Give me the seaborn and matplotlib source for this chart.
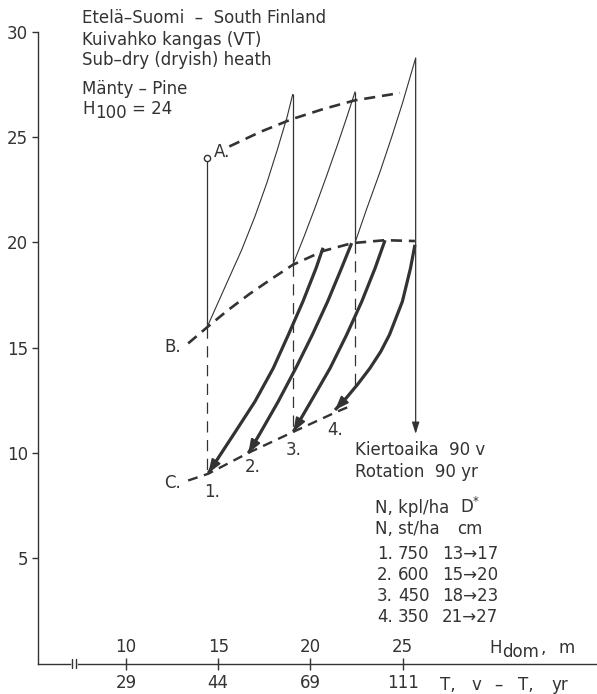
import matplotlib
matplotlib.use("Agg")
import matplotlib.pyplot as plt
import seaborn as sns
import pandas as pd

# ---------------- data ----------------
h_ticks = [10, 15, 20, 25]
t_labels = ["29", "44", "69", "111"]
y_ticks = [5, 10, 15, 20, 25, 30]

# dashed development curves A (top), B (before thinning), C (after thinning)
curve_A_h = [15.6, 17.3, 19.0, 20.7, 22.4, 24.85]
curve_A_v = [24.55, 25.25, 25.85, 26.33, 26.74, 27.09]
curve_B_h = [13.37, 14.39, 15.5, 16.7, 17.9, 19.04, 19.97, 20.70, 22.25, 24.04, 25.66]
curve_B_v = [15.2, 15.96, 16.76, 17.55, 18.27, 18.93, 19.30, 19.59, 19.96, 20.10, 20.06]
curve_C_h = [13.37, 14.46, 16.63, 19.07, 21.42, 22.1]
curve_C_v = [8.69, 9.01, 10.0, 11.0, 11.95, 12.2]

# thin growth curves (saw-tooth)
thin1_h = [14.39, 15.46, 16.27, 16.99, 17.63, 18.20, 18.74, 19.04]
thin1_v = [15.96, 18.06, 19.64, 21.23, 22.81, 24.39, 25.98, 27.04]
thin2_h = [19.04, 19.65, 20.24, 20.88, 21.51, 21.96, 22.42]
thin2_v = [18.93, 20.27, 21.63, 23.17, 24.75, 25.92, 27.16]
thin3_h = [22.42, 23.05, 23.77, 24.40, 25.0, 25.70]
thin3_v = [20.0, 21.6, 23.35, 25.0, 26.65, 28.75]

# vertical solid lines: (H, top, bottom)
vert_h = [14.39, 19.04, 22.42, 25.70]
vert_top = [24.0, 27.04, 27.16, 28.75]
vert_bot = [15.96, 18.93, 20.0, 10.9]

# vertical dashed lines
dvert_h = [14.39, 19.04, 22.42]
dvert_top = [15.96, 18.93, 20.0]
dvert_bot = [9.0, 11.0, 13.2]

# bold thinning-alternative curves 1..4
bold1_h = [14.46, 15.82, 16.99, 17.98, 18.80, 19.59, 20.30, 20.68]
bold1_v = [9.04, 10.86, 12.44, 14.02, 15.61, 17.19, 18.77, 19.74]
bold2_h = [16.63, 17.22, 18.25, 19.20, 20.10, 20.93, 21.68, 22.23]
bold2_v = [9.99, 10.86, 12.44, 14.02, 15.61, 17.19, 18.77, 19.96]
bold3_h = [19.07, 20.02, 21.06, 21.96, 22.78, 23.50, 24.04]
bold3_v = [11.01, 12.44, 14.02, 15.61, 17.19, 18.77, 20.1]
bold4_h = [21.33, 21.95, 22.55, 23.22, 23.80, 24.28, 24.98, 25.42, 25.66]
bold4_v = [12.04, 12.62, 13.25, 14.02, 14.80, 15.61, 17.19, 18.77, 19.88]

point_A = (14.39, 24.0)

table_n_kpl = ["750", "600", "450", "350"]
table_d = ["13\u219217", "15\u219220", "18\u219223", "21\u219227"]

# ---------------- figure ----------------
sns.set_style("white")
plt.rcParams["font.family"] = ["DejaVu Sans"]
ink = "#333333"
FS = 12

W, H = 597, 694
fig = plt.figure(figsize=(W / 100, H / 100), dpi=100)
fig.patch.set_facecolor("white")

x0_px, x1_px = 38, 597
y0_px, y30_px = 663.5, 31.7
ax = fig.add_axes([x0_px / W, 1 - y0_px / H, (x1_px - x0_px) / W, (y0_px - y30_px) / H])
ax.set_facecolor("none")
ax.set_xlim(10 + (x0_px - 126) / 18.45, 10 + (x1_px - 126) / 18.45)
ax.set_ylim(0, 30)


def fx(px):
    return px / W


def fy(py):
    return 1 - py / H


def txt(px, py, s, **kw):
    kw.setdefault("va", "center")
    fig.text(fx(px), fy(py), s, fontsize=FS, color=ink, **kw)


def line(hs, vs, **kw):
    df = pd.DataFrame({"h": hs, "v": vs})
    sns.lineplot(data=df, x="h", y="v", sort=False, estimator=None, ax=ax,
                 color=ink, solid_capstyle="butt", solid_joinstyle="round", **kw)


# dashed curves
line(curve_A_h, curve_A_v, lw=1.9, dashes=(4.2, 2.6))
line(curve_B_h, curve_B_v, lw=1.9, dashes=(4.2, 2.6))
line(curve_C_h, curve_C_v, lw=1.7, dashes=(4.2, 2.8))

# thin saw-tooth curves
for hs, vs in [(thin1_h, thin1_v), (thin2_h, thin2_v), (thin3_h, thin3_v)]:
    line(hs, vs, lw=0.8)

# vertical solid lines
for h, t, b in zip(vert_h[:3], vert_top[:3], vert_bot[:3]):
    line([h, h], [t, b], lw=0.9)
ax.annotate("", xy=(vert_h[3], vert_bot[3]), xytext=(vert_h[3], vert_top[3]),
            arrowprops=dict(arrowstyle="-|>,head_length=0.7,head_width=0.22", color=ink, lw=0.9,
                            mutation_scale=10, shrinkA=0, shrinkB=0))

# vertical dashed lines
for h, t, b in zip(dvert_h, dvert_top, dvert_bot):
    line([h, h], [t, b], lw=0.9, dashes=(9, 6))

# bold curves with arrow heads at their lower ends
for hs, vs in [(bold1_h, bold1_v), (bold2_h, bold2_v), (bold3_h, bold3_v), (bold4_h, bold4_v)]:
    line(hs, vs, lw=2.3)
    ax.annotate("", xy=(hs[0], vs[0]), xytext=(hs[1], vs[1]),
                arrowprops=dict(arrowstyle="-|>,head_length=0.8,head_width=0.3", color=ink, lw=1.5,
                                mutation_scale=10, shrinkA=0, shrinkB=0))

# point A
ax.plot([point_A[0]], [point_A[1]], marker="o", ms=4.5, mfc="white", mec=ink, mew=1.0)

# ---------------- axes styling ----------------
for s in ["top", "right"]:
    ax.spines[s].set_visible(False)
for s in ["left", "bottom"]:
    ax.spines[s].set_color(ink)
    ax.spines[s].set_linewidth(1.0)

ax.set_yticks(y_ticks)
ax.set_yticklabels([str(v) for v in y_ticks], fontsize=FS, color=ink)
ax.tick_params(axis="y", left=True, direction="out", length=4, width=1.0, color=ink, pad=3)
ax.set_xticks(h_ticks)
ax.set_xticklabels(t_labels, fontsize=FS, color=ink)
ax.tick_params(axis="x", bottom=True, direction="inout", length=9, width=1.0, color=ink, pad=3)
ax.set_xlabel("")
ax.set_ylabel("")

# top H_dom labels above the axis
for h in h_ticks:
    ax.text(h, 0.76, str(h), ha="center", va="center", fontsize=FS, color=ink)

# axis break mark
hb1 = 10 + (72 - 126) / 18.45
hb2 = 10 + (76 - 126) / 18.45
ax.plot([hb1, hb2], [0, 0], color="white", lw=2.0, clip_on=False, zorder=5)
for hb in (hb1, hb2):
    ax.plot([hb, hb], [-0.2, 0.2], color=ink, lw=1.0, clip_on=False, zorder=6)

# axis captions
txt(489, 648, "H")
txt(502, 652, "dom")
txt(541, 648, ",")
txt(558, 648, "m")
txt(440, 685, "T,")
txt(472, 685, "v")
txt(494, 685, "\u2013")
txt(518, 685, "T,")
txt(551, 685, "yr")

# header text
txt(82, 18, "Etelä\u2013Suomi  \u2013  South Finland")
txt(82, 40, "Kuivahko kangas (VT)")
txt(82, 60, "Sub\u2013dry (dryish) heath")
txt(82, 89, "Mänty \u2013 Pine")
txt(82, 109, "H")
txt(95, 113, "100")
txt(132, 109, "= 24")

# curve labels
for s, px, py in [("A.", 214, 152), ("B.", 164, 347), ("C.", 164, 483),
                  ("1.", 204, 492), ("2.", 245, 467), ("3.", 286, 450), ("4.", 327, 430)]:
    txt(px, py, s)

# rotation note and table
txt(355, 450, "Kiertoaika  90 v")
txt(355, 472, "Rotation  90 yr")
txt(375, 508, "N, kpl/ha")
txt(375, 529, "N, st/ha")
txt(470, 507, "D$^{*}$", ha="center")
txt(470, 529, "cm", ha="center")
for i, (n, d) in enumerate(zip(table_n_kpl, table_d)):
    yy = 554 + i * 21
    txt(377, yy, f"{i + 1}.")
    txt(398, yy, n)
    txt(470, yy, d, ha="center")

fig.savefig("out.png", dpi=100, facecolor="white")
